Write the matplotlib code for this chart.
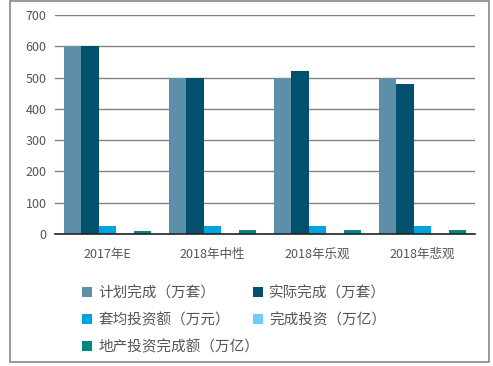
import matplotlib.pyplot as plt
import numpy as np
from matplotlib.patches import Rectangle

plt.rcParams['font.family'] = ['Noto Sans CJK SC', 'DejaVu Sans']

categories = ['2017年E', '2018年中性', '2018年乐观', '2018年悲观']
plan = [600, 500, 500, 500]
actual = [600, 500, 521, 480]
avg_invest = [26, 26, 26, 26]
done_invest = [1.56, 1.3, 1.36, 1.25]
estate_invest = [11, 14, 14, 14]

series = [plan, actual, avg_invest, done_invest, estate_invest]
names = ['计划完成（万套）', '实际完成（万套）', '套均投资额（万元）',
         '完成投资（万亿）', '地产投资完成额（万亿）']
colors = ['#5E8FA8', '#00506E', '#00A3DE', '#6DCFF6', '#00877F']

W, H = 493, 366
fig = plt.figure(figsize=(W / 100, H / 100), dpi=100)
fig.patches.append(Rectangle((10 / W, 4 / H), 479 / W, 361 / H, transform=fig.transFigure,
                             fill=False, edgecolor='#888888', linewidth=1.2))

ax = fig.add_axes([55 / W, (H - 234) / H, 420 / W, 219 / H])
x = np.arange(len(categories))
bw = 0.166
handles = []
for i, (vals, name, c) in enumerate(zip(series, names, colors)):
    b = ax.bar(x + (i - 2) * bw, vals, bw, color=c, label=name)
    handles.append(b)

ax.set_xlim(-0.5, 3.5)
ax.set_ylim(0, 700)
ax.set_yticks(range(0, 701, 100))
ax.yaxis.grid(True, color='#808080', linewidth=1)
ax.set_axisbelow(True)
for s in ['left', 'right', 'top']:
    ax.spines[s].set_visible(False)
ax.spines['bottom'].set_color('#222222')
ax.spines['bottom'].set_linewidth(1.2)
ax.tick_params(axis='both', length=0, labelsize=9, colors='#555555', pad=6)
ax.tick_params(axis='x', pad=10)
ax.set_xticks(x)
ax.set_xticklabels(categories)

# two legend columns placed separately (flow layout like the original)
leg_kw = dict(loc='upper left', frameon=False, fontsize=10.5, handlelength=0.7,
              handleheight=0.7, labelspacing=0.85, handletextpad=0.4, labelcolor='#555555')
left_idx = [0, 2, 4]
right_idx = [1, 3]
leg1 = fig.legend(handles=[handles[i] for i in left_idx], labels=[names[i] for i in left_idx],
                  bbox_to_anchor=(69 / W, 1 - 273 / H), **leg_kw)
fig.legend(handles=[handles[i] for i in right_idx], labels=[names[i] for i in right_idx],
           bbox_to_anchor=(240 / W, 1 - 273 / H), **leg_kw)

fig.savefig('out.png', dpi=100)
